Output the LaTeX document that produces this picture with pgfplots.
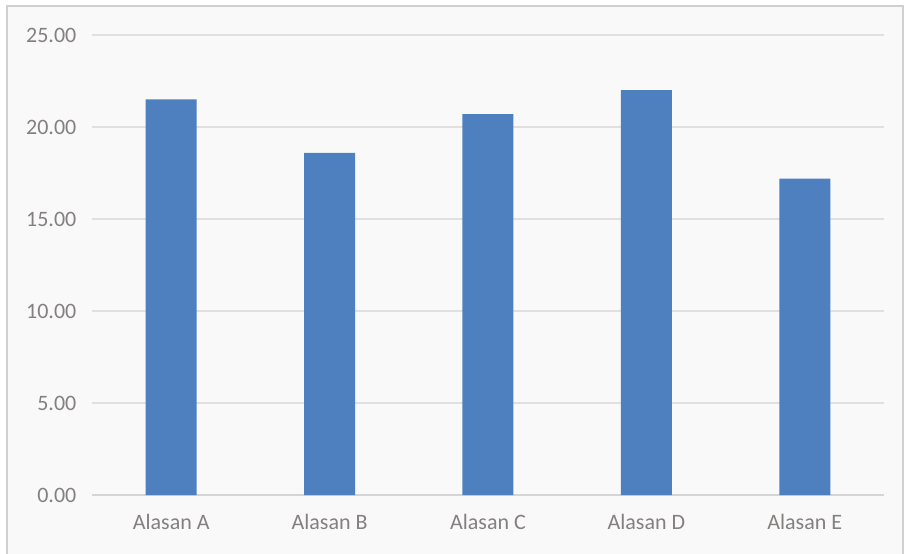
\documentclass[border=0pt]{standalone}
\usepackage{pgfplots}
\pgfplotsset{compat=1.18}
\usepackage{fontspec}
\setmainfont{Carlito}
\definecolor{barblue}{HTML}{4E80BF}
\definecolor{bgc}{HTML}{F9F9FA}
\definecolor{gridc}{HTML}{E3DFDF}
\definecolor{axc}{HTML}{D6D4D4}
\definecolor{txt}{HTML}{858080}
\definecolor{brd}{HTML}{D0D0D0}
\begin{document}
\begin{tikzpicture}
\useasboundingbox (0pt,0pt) rectangle (453.5pt,276.5pt);
\fill[white] (0pt,0pt) rectangle (453.5pt,276.5pt);
\filldraw[fill=bgc, draw=brd, line width=0.6pt] (3.5pt,-3pt) rectangle (451.5pt,273.5pt);
\begin{axis}[
  at={(46pt,29pt)}, anchor=south west,
  scale only axis, width=396pt, height=230pt,
  xmin=-0.5, xmax=4.5, ymin=0, ymax=25,
  axis line style={draw=none},
  major tick length=0pt,
  xtick=data,
  xticklabels={Alasan A,Alasan B,Alasan C,Alasan D,Alasan E},
  ytick={0,5,10,15,20,25},
  ymajorgrids, grid style={gridc, line width=0.7pt},
  extra y ticks={0}, extra y tick labels={},
  extra y tick style={grid style={axc, line width=0.8pt}},
  /pgf/number format/assume math mode=true,
  /pgf/number format/fixed,
  /pgf/number format/fixed zerofill,
  /pgf/number format/precision=2,
  tick label style={font=\fontsize{11}{13}\selectfont, text=txt},
  yticklabel style={xshift=-4.3pt},
  xticklabel style={yshift=-6pt},
  clip=false,
]
\addplot[ybar, bar width=25.5pt, fill=barblue, draw=none] coordinates {
  (0,21.5) (1,18.6) (2,20.7) (3,22.0) (4,17.2)
};
\end{axis}
\end{tikzpicture}
\end{document}
